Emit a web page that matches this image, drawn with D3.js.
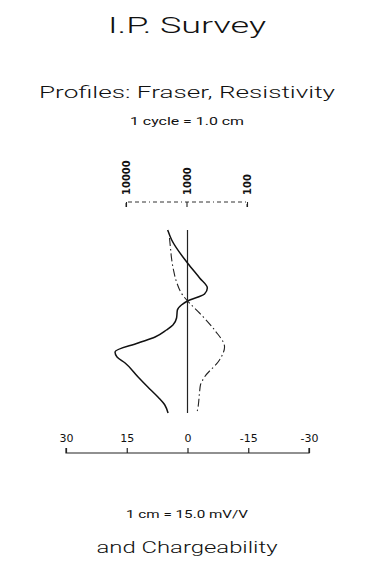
<!DOCTYPE html>
<html>
<head>
<meta charset="utf-8">
<script src="https://cdn.jsdelivr.net/npm/d3@7"></script>
<style>
  html, body { margin: 0; padding: 0; background: #fff; }
  svg { display: block; }
  text { font-family: Roboto, "DejaVu Sans", sans-serif; font-weight: 300; fill: #111; }
</style>
</head>
<body>
<script>
// Station positions down the profile (plot units, top = 0)
const chgStations = [0, 10, 33, 48, 58, 64, 71, 75, 80, 88, 95, 100, 107, 113, 122, 127, 133, 147, 157, 167, 175, 183];
// Chargeability, mV/V
const chgValues = [4.9, 3.9, 0, -3.0, -4.9, -4.2, 0, 1.5, 2.5, 2.7, 3.6, 5.2, 8.0, 12.2, 17.9, 17.4, 15.4, 12.2, 9.8, 7.3, 5.6, 4.8];

const resStations = [8, 18, 28, 40, 52, 65, 72, 83, 100, 117, 130, 147, 155, 163, 180, 183];
// Apparent resistivity, ohm-m
const resValues = [1910, 1840, 1770, 1640, 1460, 1160, 926, 610, 344, 235, 285, 503, 588, 610, 658, 684];

const chgTicks = [30, 15, 0, -15, -30];
const resTicks = [10000, 1000, 100];

const W = 391, H = 576;
const svg = d3.select("body").append("svg").attr("width", W).attr("height", H);

// Titles
const titles = [
  { t: "I.P. Survey", y: 33, size: 22, len: 158, w: 300 },
  { t: "Profiles: Fraser, Resistivity", y: 98, size: 17, len: 296, w: 300 },
  { t: "1 cycle = 1.0 cm", y: 125, size: 11, len: 114, w: 400 },
  { t: "1 cm = 15.0 mV/V", y: 518, size: 11, len: 122, w: 400 },
  { t: "and Chargeability", y: 553, size: 17, len: 181, w: 300 }
];
svg.selectAll("text.title").data(titles).join("text")
  .attr("class", "title")
  .attr("x", 187).attr("y", d => d.y)
  .attr("text-anchor", "middle")
  .attr("font-size", d => d.size)
  .style("font-weight", d => d.w)
  .attr("textLength", d => d.len)
  .attr("lengthAdjust", "spacingAndGlyphs")
  .text(d => d.t);

// Scales
const x = d3.scaleLinear().domain([30, -30]).range([66, 309]);
const xr = d3.scaleLog().domain([10000, 100]).range([126, 247]);
const y = d3.scaleLinear().domain([0, 183]).range([230, 413]);

// Plain hyphen for negative tick labels
const intFmt = d => String(Math.round(d));

// Bottom chargeability axis, ticks pointing up
const axB = svg.append("g").attr("transform", "translate(0,453)")
  .call(d3.axisTop(x).tickValues(chgTicks).tickSize(5).tickFormat(intFmt));
axB.select(".domain").attr("d", `M${x.range()[0]},-5V0H${x.range()[1]}V-5`).attr("stroke", "#222").attr("stroke-width", 1.2);
axB.selectAll(".tick line").attr("stroke", "#222").attr("stroke-width", 1.2);
axB.selectAll(".tick text").attr("y", -11).attr("font-size", 11).attr("fill", "#111")
  .style("font-family", "'DejaVu Sans', sans-serif").style("font-weight", "normal");

// Top resistivity axis (log), dashed line with ticks pointing down
const axT = svg.append("g").attr("transform", "translate(0,202)")
  .call(d3.axisBottom(xr).tickValues(resTicks).tickSize(5).tickFormat(intFmt));
axT.select(".domain").attr("d", `M${xr.range()[0]},5V0H${xr.range()[1]}V5`)
  .attr("stroke", "#333").attr("stroke-width", 1).attr("stroke-dasharray", "4,3,4,3,4,3,4,3,1,3");
axT.selectAll(".tick line").attr("stroke", "#222").attr("stroke-width", 1.1);
axT.selectAll(".tick text")
  .attr("transform", "rotate(-90)")
  .attr("x", 7).attr("y", 0).attr("dy", "0.35em")
  .attr("text-anchor", "start")
  .attr("font-size", 10).attr("fill", "#111")
  .style("font-family", "'DejaVu Sans', sans-serif").style("font-weight", "bold");

// Zero reference line
svg.append("line")
  .attr("x1", x(0)).attr("x2", x(0))
  .attr("y1", y(0)).attr("y2", y(183))
  .attr("stroke", "#222").attr("stroke-width", 1.2);

// Chargeability profile (solid)
const chgLine = d3.line().x(d => x(d[1])).y(d => y(d[0])).curve(d3.curveMonotoneY);
svg.append("path")
  .datum(d3.zip(chgStations, chgValues))
  .attr("d", chgLine)
  .attr("fill", "none").attr("stroke", "#111").attr("stroke-width", 1.5);

// Resistivity profile (dash-dot)
const resLine = d3.line().x(d => xr(d[1])).y(d => y(d[0])).curve(d3.curveMonotoneY);
svg.append("path")
  .datum(d3.zip(resStations, resValues))
  .attr("d", resLine)
  .attr("fill", "none").attr("stroke", "#222").attr("stroke-width", 1.1)
  .attr("stroke-dasharray", "8,3,1.5,3");
</script>
</body>
</html>
